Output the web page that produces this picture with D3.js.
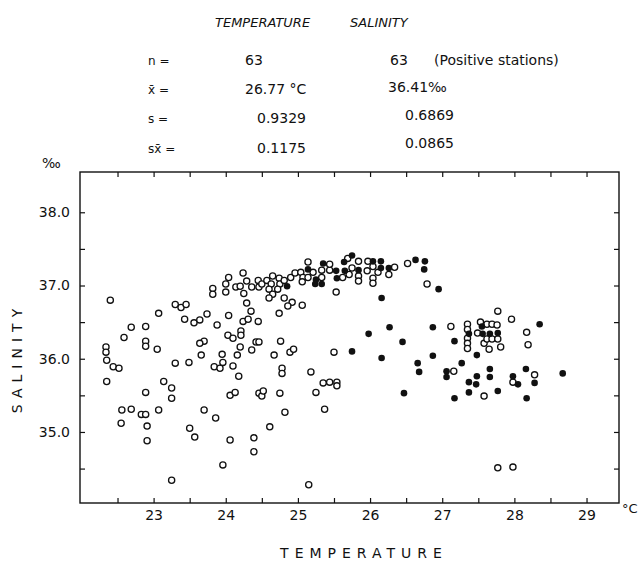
<!DOCTYPE html>
<html><head><meta charset="utf-8">
<script src="https://cdn.jsdelivr.net/npm/d3@7"></script>
<style>body{margin:0;background:#fff}svg text{fill:#111}</style>
</head><body><svg id="c" width="641" height="562"></svg>
<script>
// Temperature (°C), Salinity (‰) — negative stations (open circles)
const openStations = [
[22.40,36.80],[22.34,36.16],[22.34,36.09],[22.35,35.98],[22.44,35.89],[22.52,35.87],[22.35,35.69],
[22.59,36.29],[22.69,36.43],[22.89,36.44],[22.89,36.24],[22.89,36.17],[23.05,36.13],
[23.07,36.62],[23.30,36.74],[23.38,36.70],[23.45,36.74],[23.43,36.54],[23.56,36.49],[23.64,36.53],[23.74,36.61],[23.88,36.46],[24.04,36.59],
[23.82,36.96],[23.82,36.88],[24.00,37.02],[24.00,36.91],[24.04,37.11],[24.24,37.17],[24.14,36.98],[24.20,36.99],[24.25,36.89],[24.29,37.06],[24.36,36.98],[24.45,37.07],[24.46,36.98],[24.50,37.02],[24.57,37.07],[24.65,37.13],[24.74,37.10],[24.63,37.02],[24.75,37.02],[24.81,37.07],[24.90,37.11],
[24.96,37.17],[25.04,37.18],[25.07,37.11],[25.14,37.11],[25.06,37.05],
[25.14,37.32],[25.21,37.18],[25.33,37.21],[25.44,37.21],[25.44,37.29],[25.33,37.11],[25.62,37.11],[25.71,37.15],[25.69,37.37],[25.75,37.24],[25.84,37.33],[25.84,37.13],[25.84,37.06],[25.97,37.33],[25.96,37.20],[26.04,37.26],[26.04,37.10],[26.04,37.03],[26.11,37.18],[26.26,37.15],[26.34,37.25],[26.52,37.30],[26.79,37.02],[25.53,36.91],
[24.60,36.95],[24.65,36.88],[24.72,36.95],[24.60,36.83],[24.81,36.83],[24.92,36.77],[24.86,36.72],[25.06,36.73],
[24.29,36.76],[24.35,36.65],[24.74,36.62],[24.24,36.51],[24.31,36.54],[24.45,36.51],
[24.03,36.32],[24.10,36.28],[24.21,36.38],[24.21,36.32],[24.42,36.23],[24.46,36.23],[23.70,36.24],[23.64,36.21],[24.76,36.24],[24.20,36.16],[24.36,36.12],
[23.66,36.05],[23.95,36.06],[24.16,36.05],[23.30,35.94],[23.49,35.95],[23.84,35.89],[23.92,35.87],[23.96,35.95],[24.10,35.90],[24.67,36.05],[24.89,36.09],[24.94,36.13],[25.50,36.09],
[23.14,35.69],[23.25,35.60],[23.25,35.46],[22.89,35.54],[24.18,35.76],[24.06,35.50],[24.13,35.54],[24.46,35.53],[24.50,35.49],[24.52,35.56],[24.75,35.53],[24.78,35.87],[24.78,35.80],[25.18,35.82],[25.25,35.54],[25.35,35.67],[25.44,35.68],[25.54,35.68],[25.54,35.63],
[24.82,35.27],[25.37,35.31],[24.61,35.07],[24.39,34.92],[24.39,34.73],[25.15,34.28],
[23.07,35.30],[22.56,35.30],[22.69,35.31],[22.83,35.24],[22.89,35.24],[22.55,35.12],[22.91,35.08],[22.91,34.88],[23.50,35.05],[23.57,34.93],[23.70,35.30],[23.86,35.19],[24.06,34.89],[23.96,34.55],[23.25,34.34],
[27.77,36.65],[27.96,36.54],[27.12,36.44],[27.35,36.47],[27.35,36.40],[27.35,36.28],[27.35,36.21],[27.35,36.14],[27.53,36.50],[27.62,36.47],[27.69,36.47],[27.76,36.46],[27.49,36.35],[27.58,36.21],[27.62,36.27],[27.69,36.27],[27.77,36.27],[27.65,36.13],[27.81,36.16],[28.17,36.36],[28.19,36.19],[27.16,35.83],[27.98,35.68],[28.28,35.78],[27.58,35.49],[27.77,34.51],[27.98,34.52]
];
// positive stations (filled circles)
const positiveStations = [
[25.14,37.22],[24.85,36.99],[25.25,37.08],[25.24,37.02],[25.33,37.02],[25.35,37.30],[25.53,37.20],[25.54,37.10],[25.64,37.32],[25.75,37.41],[25.65,37.20],[25.84,37.21],[26.04,37.33],[26.15,37.33],[26.15,37.24],[26.26,37.24],[26.63,37.35],[26.76,37.33],[26.75,37.22],[26.95,36.95],[26.16,36.83],[26.27,36.43],[25.98,36.34],[26.45,36.23],[26.87,36.43],[25.75,36.10],[26.16,36.01],[26.87,36.04],[26.66,35.94],[26.68,35.82],[26.47,35.53],
[27.37,36.34],[27.55,36.44],[27.56,36.34],[27.66,36.34],[27.77,36.35],[27.17,36.24],[28.35,36.47],[27.48,36.05],[27.27,35.94],[27.06,35.83],[27.06,35.75],[27.48,35.76],[27.37,35.68],[27.47,35.65],[27.66,35.86],[27.66,35.75],[27.98,35.76],[28.05,35.65],[28.16,35.86],[28.28,35.67],[28.67,35.80],[27.37,35.54],[27.77,35.56],[27.17,35.46],[28.17,35.46]
];
const xMajorTicks = [23,24,25,26,27,28,29];
const xMinorTicks = [22.5,23.5,24.5,25.5,26.5,27.5,28.5];
const yMajorTicks = [35.0,36.0,37.0,38.0];
const yMinorTicks = [34.5,35.5,36.5,37.5];
const statHeaders = ["TEMPERATURE","SALINITY"];
const statLabels = ["n =","x̄ =","s =","sx̄ ="];
const tempStats = ["63","26.77 °C","0.9329","0.1175"];
const salStats = ["63","36.41‰","0.6869","0.0865"];
const noteText = "(Positive stations)";

const svg = d3.select("#c");
const F = "'DejaVu Sans', 'Liberation Sans', sans-serif";
const L = {left:80,right:619,top:172,bottom:503};
const x = d3.scaleLinear().domain([21.98,29.45]).range([L.left,L.right]);
const y = d3.scaleLinear().domain([34.03,38.55]).range([L.bottom,L.top]);

// frame
svg.append("rect").attr("x",L.left).attr("y",L.top).attr("width",L.right-L.left).attr("height",L.bottom-L.top)
  .attr("fill","none").attr("stroke","#111").attr("stroke-width",1.4);

const allX = xMinorTicks.concat(xMajorTicks).sort((a,b)=>a-b);
const allY = yMinorTicks.concat(yMajorTicks).sort((a,b)=>a-b);
function styleAxis(g){ g.select(".domain").remove(); g.selectAll("line").attr("stroke","#111").attr("stroke-width",1.2);
  g.selectAll("text").attr("font-family",F).attr("font-size",14).attr("fill","#111"); }
svg.append("g").attr("transform",`translate(0,${L.bottom})`)
  .call(d3.axisBottom(x).tickValues(allX).tickSize(-5).tickPadding(7).tickFormat(d=>xMajorTicks.includes(d)?d:""))
  .call(styleAxis);
svg.append("g").attr("transform",`translate(0,${L.top})`)
  .call(d3.axisTop(x).tickValues(allX).tickSize(-5).tickFormat(""))
  .call(styleAxis);
svg.append("g").attr("transform",`translate(${L.left},0)`)
  .call(d3.axisLeft(y).tickValues(allY).tickSize(-5).tickPadding(10).tickFormat(d=>yMajorTicks.includes(d)?d3.format(".1f")(d):""))
  .call(styleAxis);
svg.append("g").attr("transform",`translate(${L.right},0)`)
  .call(d3.axisRight(y).tickValues(allY).tickSize(-5).tickFormat(""))
  .call(styleAxis);

// points
svg.append("g").selectAll("circle").data(openStations).join("circle")
  .attr("cx",d=>x(d[0])).attr("cy",d=>y(d[1])).attr("r",3.1)
  .attr("fill","#fff").attr("stroke","#111").attr("stroke-width",1.3);
svg.append("g").selectAll("circle").data(positiveStations).join("circle")
  .attr("cx",d=>x(d[0])).attr("cy",d=>y(d[1])).attr("r",3.3)
  .attr("fill","#111");

// axis titles
svg.append("text").attr("x",622).attr("y",513).attr("font-family",F).attr("font-size",13).text("°C");
svg.append("text").attr("x",42).attr("y",168).attr("font-family",F).attr("font-size",14).text("‰");
svg.append("text").attr("x",364).attr("y",558).attr("text-anchor","middle").attr("font-family",F)
  .attr("font-size",14).attr("letter-spacing",6).text("TEMPERATURE");
svg.append("text").attr("transform","translate(22,358) rotate(-90)").attr("text-anchor","middle").attr("font-family",F)
  .attr("font-size",14).attr("letter-spacing",6).text("SALINITY");

// stats block
const hx = [215,350];
statHeaders.forEach((h,i)=>svg.append("text").attr("x",hx[i]).attr("y",27).attr("font-family",F)
  .attr("font-size",13).attr("font-style","italic").text(h));
const rowY = [65,94,123,153];
const salY = [65,92,120,148];
const tempX = [245,245,257,257];
const salX = [390,388,405,405];
statLabels.forEach((t,i)=>svg.append("text").attr("x",148).attr("y",rowY[i]).attr("font-family",F).attr("font-size",12).text(t));
tempStats.forEach((t,i)=>svg.append("text").attr("x",tempX[i]).attr("y",rowY[i]).attr("font-family",F).attr("font-size",14).text(t));
salStats.forEach((t,i)=>svg.append("text").attr("x",salX[i]).attr("y",salY[i]).attr("font-family",F).attr("font-size",14).text(t));
svg.append("text").attr("x",434).attr("y",65).attr("font-family",F).attr("font-size",14).text(noteText);
</script></body></html>
